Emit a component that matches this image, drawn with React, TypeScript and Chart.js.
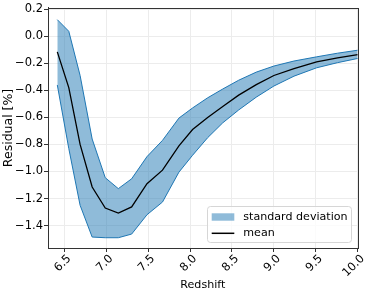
import React, { useEffect, useRef } from "react";
import { Chart, registerables } from "chart.js";

Chart.register(...registerables);

const redshift = [6.416, 6.553, 6.688, 6.832, 6.988, 7.144, 7.303, 7.486, 7.671, 7.867, 8.03, 8.21, 8.39, 8.58, 8.79, 9.0, 9.24, 9.51, 9.76, 10.0];
const meanResidual = [-0.115, -0.38, -0.8, -1.115, -1.27, -1.307, -1.262, -1.09, -0.99, -0.81, -0.69, -0.6, -0.52, -0.435, -0.358, -0.29, -0.24, -0.19, -0.16, -0.135];
const upperResidual = [0.123, 0.037, -0.29, -0.76, -1.046, -1.127, -1.054, -0.89, -0.77, -0.605, -0.53, -0.455, -0.39, -0.325, -0.265, -0.22, -0.183, -0.152, -0.125, -0.103];
const lowerResidual = [-0.36, -0.83, -1.25, -1.485, -1.49, -1.49, -1.463, -1.32, -1.226, -1.005, -0.88, -0.75, -0.64, -0.545, -0.45, -0.368, -0.295, -0.233, -0.195, -0.164];

const xTicks = [6.5, 7.0, 7.5, 8.0, 8.5, 9.0, 9.5, 10.0];
const yTicks = [-1.4, -1.2, -1.0, -0.8, -0.6, -0.4, -0.2, 0.0, 0.2];

const FONT = "'DejaVu Sans', sans-serif";
const C0 = "#1f77b4";
const C0_FILL = "rgba(31,119,180,0.5)";

const fmt = (v: number) => v.toFixed(1).replace("-", "\u2212");

const framePlugin = {
  id: "frameLegend",
  afterDraw(chart: any) {
    const { ctx, chartArea } = chart;
    const { left, top, right, bottom } = chartArea;
    ctx.save();
    ctx.strokeStyle = "#333";
    ctx.lineWidth = 1;
    ctx.strokeRect(Math.round(left) + 0.5, Math.round(top) + 0.5, Math.round(right - left), Math.round(bottom - top));

    // legend
    const bx = 207.5, by = 206.5, bw = 144, bh = 36;
    const r = 3;
    ctx.beginPath();
    ctx.moveTo(bx + r, by);
    ctx.lineTo(bx + bw - r, by);
    ctx.quadraticCurveTo(bx + bw, by, bx + bw, by + r);
    ctx.lineTo(bx + bw, by + bh - r);
    ctx.quadraticCurveTo(bx + bw, by + bh, bx + bw - r, by + bh);
    ctx.lineTo(bx + r, by + bh);
    ctx.quadraticCurveTo(bx, by + bh, bx, by + bh - r);
    ctx.lineTo(bx, by + r);
    ctx.quadraticCurveTo(bx, by, bx + r, by);
    ctx.closePath();
    ctx.fillStyle = "rgba(255,255,255,0.8)";
    ctx.fill();
    ctx.strokeStyle = "#d6d6d6";
    ctx.lineWidth = 1;
    ctx.stroke();

    ctx.fillStyle = C0_FILL;
    ctx.fillRect(211.7, 213.3, 22.6, 7.4);

    ctx.strokeStyle = "#000";
    ctx.lineWidth = 1.5;
    ctx.beginPath();
    ctx.moveTo(211.7, 233.3);
    ctx.lineTo(234.3, 233.3);
    ctx.stroke();

    ctx.fillStyle = "#000";
    ctx.font = `11.1px ${FONT}`;
    ctx.textBaseline = "middle";
    ctx.textAlign = "left";
    ctx.fillText(chart.data.datasets[1].label, 243.3, 217);
    ctx.fillText(chart.data.datasets[0].label, 243.3, 233.5);
    ctx.restore();
  },
};

export default function App() {
  const ref = useRef<HTMLCanvasElement>(null);

  useEffect(() => {
    document.body.style.margin = "0";
    const canvas = ref.current!;
    const chart = new Chart(canvas, {
      type: "line",
      data: {
        datasets: [
          {
            label: "mean",
            data: redshift.map((x, i) => ({ x, y: meanResidual[i] })),
            borderColor: "#000",
            borderWidth: 1.3,
            pointRadius: 0,
            fill: false,
            tension: 0,
          },
          {
            label: "standard deviation",
            data: redshift.map((x, i) => ({ x, y: upperResidual[i] })),
            borderColor: C0,
            backgroundColor: C0_FILL,
            borderWidth: 1,
            pointRadius: 0,
            fill: "+1",
            tension: 0,
          },
          {
            label: "lower",
            data: redshift.map((x, i) => ({ x, y: lowerResidual[i] })),
            borderColor: C0,
            borderWidth: 1,
            pointRadius: 0,
            fill: false,
            tension: 0,
          },
        ],
      },
      options: {
        responsive: false,
        animation: false,
        devicePixelRatio: 1,
        layout: { padding: { top: 6.7, right: 16.3, left: 0, bottom: 0 } },
        plugins: {
          legend: { display: false },
          tooltip: { enabled: false },
        },
        scales: {
          x: {
            type: "linear",
            min: 6.305,
            max: 10.0,
            afterBuildTicks: (s: any) => {
              s.ticks = xTicks.map((v) => ({ value: v }));
            },
            afterFit: (s: any) => {
              s.height = 47;
            },
            ticks: {
              minRotation: 45,
              maxRotation: 45,
              autoSkip: false,
              padding: 0,
              labelOffset: 5,
              color: "#000",
              font: { family: FONT, size: 11.5 },
              callback: (v: any) => fmt(Number(v)),
            },
            grid: { color: "#ececec", tickColor: "#333", tickLength: 4, lineWidth: 1 },
            border: { display: true, color: "#333" },
            title: {
              display: true,
              text: "Redshift",
              color: "#000",
              font: { family: FONT, size: 11.1 },
              padding: { top: 0, bottom: 3.6 },
            },
          },
          y: {
            type: "linear",
            min: -1.566,
            max: 0.21,
            afterBuildTicks: (s: any) => {
              s.ticks = yTicks.map((v) => ({ value: v }));
            },
            afterFit: (s: any) => {
              s.width = 48;
            },
            ticks: {
              padding: 1,
              color: "#000",
              font: { family: FONT, size: 11.5 },
              callback: (v: any) => fmt(Number(v)),
            },
            grid: { color: "#ececec", tickColor: "#333", tickLength: 4, lineWidth: 1 },
            border: { display: true, color: "#333" },
            title: {
              display: true,
              text: "Residual [%]",
              color: "#000",
              font: { family: FONT, size: 12.5 },
              padding: { top: 1.2, bottom: 0 },
            },
          },
        },
      },
      plugins: [framePlugin],
    });
    return () => chart.destroy();
  }, []);

  return <canvas ref={ref} width={374} height={295} style={{ display: "block" }} />;
}
